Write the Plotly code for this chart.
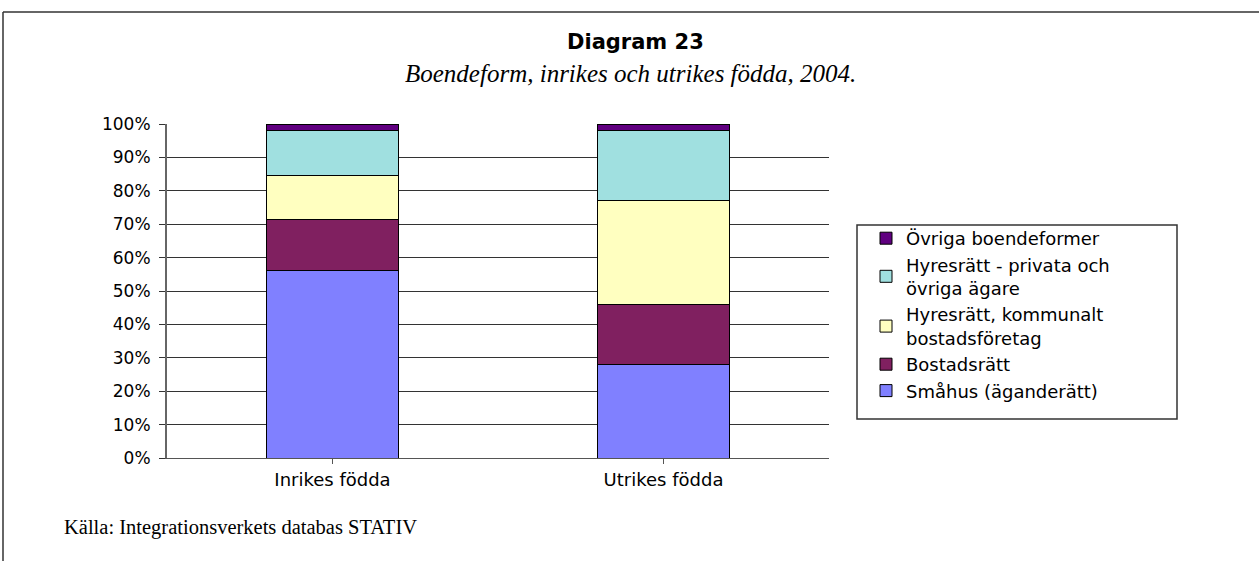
import plotly.graph_objects as go

categories = ["Inrikes födda", "Utrikes födda"]
series_names = [
    "Småhus (äganderätt)",
    "Bostadsrätt",
    "Hyresrätt, kommunalt<br>bostadsföretag",
    "Hyresrätt - privata och<br>övriga ägare",
    "Övriga boendeformer",
]
smahus = [56.2, 28.1]
bostadsratt = [15.2, 17.9]
hyres_kommunalt = [13.1, 31.1]
hyres_privata = [13.5, 20.9]
ovriga = [2.0, 2.0]
series_values = [smahus, bostadsratt, hyres_kommunalt, hyres_privata, ovriga]
colors = ["#8080FF", "#802060", "#FFFFC0", "#A0E0E0", "#600080"]
y_ticks = [0, 10, 20, 30, 40, 50, 60, 70, 80, 90, 100]

W, H = 1259, 561
PL, PR, PT, PB = 167, 829, 124, 458  # plot area in pixels

SANS = "DejaVu Sans, Arial, sans-serif"
SERIF = "Liberation Serif, Times New Roman, serif"

fig = go.Figure()
for name, vals, col in zip(series_names, series_values, colors):
    fig.add_trace(go.Bar(
        x=categories, y=vals, name=name,
        marker=dict(color=col, line=dict(color="#000000", width=1)),
        width=0.40,
    ))

def px_x(x):
    return (x - PL) / (PR - PL)

def px_y(y):
    return (PB - y) / (PB - PT)

fig.update_layout(
    width=W, height=H,
    margin=dict(l=PL, r=W - PR, t=PT, b=H - PB, autoexpand=False),
    paper_bgcolor="white", plot_bgcolor="white",
    barmode="stack",
    font=dict(family=SANS, size=17, color="black"),
    showlegend=True,
    legend=dict(
        x=px_x(866), y=px_y(220), xanchor="left", yanchor="top",
        traceorder="reversed", bgcolor="rgba(0,0,0,0)", borderwidth=0,
        font=dict(size=18, family=SANS),
        itemwidth=30,
    ),
    xaxis=dict(
        showline=True, linecolor="#555", linewidth=1, ticks="outside",
        ticklen=5, tickcolor="#555", showgrid=False,
        tickfont=dict(size=18),
    ),
    yaxis=dict(
        range=[0, 100], tickvals=y_ticks, ticktext=[f"{v}%" for v in y_ticks],
        showline=True, linecolor="#666", linewidth=2, ticks="outside",
        ticklen=6, tickcolor="#333", showgrid=True, gridcolor="#333", gridwidth=1,
        tickfont=dict(size=17), zeroline=False, ticklabelstandoff=5,
    ),
    annotations=[
        dict(text="<b>Diagram 23</b>", x=px_x(635), y=px_y(42),
             xref="paper", yref="paper", showarrow=False,
             xanchor="center", yanchor="middle",
             font=dict(size=21, family=SANS)),
        dict(text="<i>Boendeform, inrikes och utrikes födda, 2004.</i>", x=px_x(630),
             y=px_y(73), xref="paper", yref="paper", showarrow=False,
             xanchor="center", yanchor="middle",
             font=dict(size=25, family=SERIF)),
        dict(text="Källa: Integrationsverkets databas STATIV", x=px_x(62),
             y=px_y(527), xref="paper", yref="paper", showarrow=False,
             xanchor="left", yanchor="middle",
             font=dict(size=20.5, family=SERIF)),
    ],
    shapes=[
        dict(type="line", xref="paper", yref="paper",
             x0=px_x(3), x1=px_x(1259), y0=px_y(12), y1=px_y(12),
             line=dict(color="#333", width=1.5)),
        dict(type="line", xref="paper", yref="paper",
             x0=px_x(3), x1=px_x(3), y0=px_y(12), y1=px_y(561),
             line=dict(color="#333", width=1.5)),
        dict(type="rect", xref="paper", yref="paper",
             x0=px_x(857), x1=px_x(1177), y0=px_y(225), y1=px_y(419),
             line=dict(color="#333", width=1.5)),
    ],
)

fig.write_html("out.html", config={"displayModeBar": False},
               post_script="document.body.style.margin='0';")
